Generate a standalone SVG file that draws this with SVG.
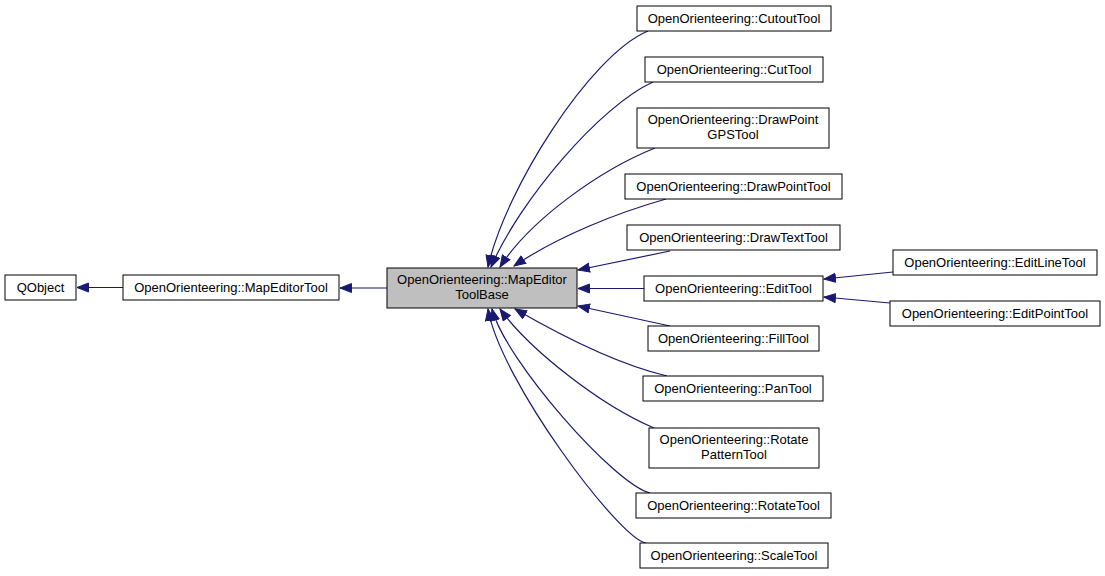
<svg xmlns="http://www.w3.org/2000/svg" width="1105" height="576" viewBox="0 0 1105 576">
<style>
.n rect{fill:#ffffff;stroke:#000000;stroke-width:1}
.b rect{fill:#bfbfbf;stroke:#000000;stroke-width:1}
text{font-family:"Liberation Sans",Arial,Helvetica,sans-serif;font-size:13px;fill:#000000;text-anchor:middle}
.e path{fill:none;stroke:#191970;stroke-width:1.2;marker-end:url(#ah)}
</style>
<defs>
<marker id="ah" markerUnits="userSpaceOnUse" markerWidth="14" markerHeight="12" refX="12" refY="5" orient="auto">
<path d="M0.5,0.5 L12,5 L0.5,9.5 z" fill="#191970" stroke="#191970" stroke-width="1"/>
</marker>
</defs>
<rect x="0" y="0" width="1105" height="576" fill="#ffffff"/>
<g class="e" id="edges">
<path d="M123,287.5 L77,287.5"/>
<path d="M387,288 L340,288"/>
<path d="M644,288.5 L578,288.5"/>
<path d="M893,272 L824,279"/>
<path d="M890,303 L824,297"/>
<path d="M670,251 L578,270"/>
<path d="M670,326 L578,306"/>
<path d="M648,31 C590,55 505,190 488,267"/>
<path d="M653,82 C600,106 520,200 491,267"/>
<path d="M655,148 C600,170 530,220 500,267"/>
<path d="M666,199 C620,212 560,235 514,266"/>
<path d="M667,376 C620,365 560,335 515,309"/>
<path d="M654,428 C600,405 530,350 500,309"/>
<path d="M650,493 C615,485 505,360 492,309"/>
<path d="M646,543 C620,540 500,380 488,309"/>
</g>
<g class="n" id="QObject"><rect x="5" y="275" width="71" height="25"/><text x="40.5" y="292">QObject</text></g>
<g class="n" id="MapEditorTool"><rect x="123" y="275" width="216" height="25"/><text x="231" y="292">OpenOrienteering::MapEditorTool</text></g>
<g class="b" id="MapEditorToolBase"><rect x="387" y="268" width="190" height="40"/><text x="482" y="284">OpenOrienteering::MapEditor</text><text x="482" y="299">ToolBase</text></g>
<g class="n" id="CutoutTool"><rect x="637" y="6" width="194" height="25"/><text x="734" y="23">OpenOrienteering::CutoutTool</text></g>
<g class="n" id="CutTool"><rect x="645" y="57" width="178" height="25"/><text x="734" y="74">OpenOrienteering::CutTool</text></g>
<g class="n" id="DrawPointGPSTool"><rect x="637" y="108" width="192" height="40"/><text x="733" y="124">OpenOrienteering::DrawPoint</text><text x="733" y="139">GPSTool</text></g>
<g class="n" id="DrawPointTool"><rect x="625" y="174" width="217" height="25"/><text x="733.5" y="191">OpenOrienteering::DrawPointTool</text></g>
<g class="n" id="DrawTextTool"><rect x="627" y="225" width="213" height="25"/><text x="733.5" y="242">OpenOrienteering::DrawTextTool</text></g>
<g class="n" id="EditTool"><rect x="644" y="276" width="179" height="25"/><text x="733.5" y="293">OpenOrienteering::EditTool</text></g>
<g class="n" id="FillTool"><rect x="648" y="326" width="171" height="25"/><text x="733.5" y="343">OpenOrienteering::FillTool</text></g>
<g class="n" id="PanTool"><rect x="643" y="376" width="180" height="25"/><text x="733" y="393">OpenOrienteering::PanTool</text></g>
<g class="n" id="RotatePatternTool"><rect x="649" y="428" width="170" height="40"/><text x="734" y="444">OpenOrienteering::Rotate</text><text x="734" y="459">PatternTool</text></g>
<g class="n" id="RotateTool"><rect x="636" y="493" width="195" height="25"/><text x="733.5" y="510">OpenOrienteering::RotateTool</text></g>
<g class="n" id="ScaleTool"><rect x="640" y="543" width="188" height="25"/><text x="734" y="560">OpenOrienteering::ScaleTool</text></g>
<g class="n" id="EditLineTool"><rect x="893" y="250" width="204" height="25"/><text x="995" y="267">OpenOrienteering::EditLineTool</text></g>
<g class="n" id="EditPointTool"><rect x="890" y="301" width="210" height="25"/><text x="995" y="318">OpenOrienteering::EditPointTool</text></g>
</svg>
